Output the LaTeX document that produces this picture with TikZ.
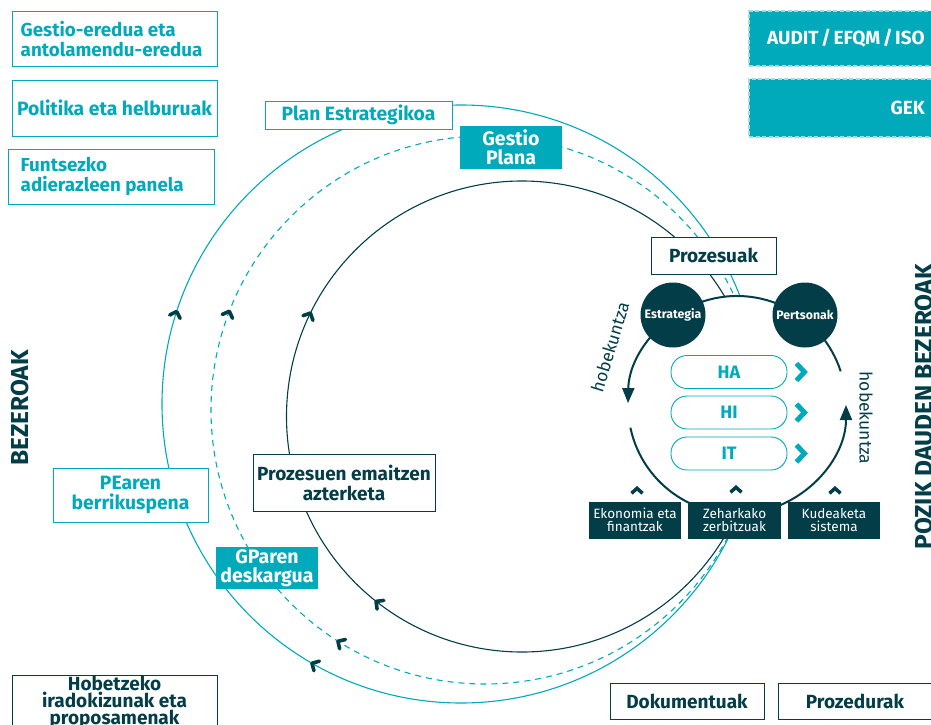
\documentclass[tikz,border=0pt]{standalone}
\usepackage{fontspec}
\setmainfont{Fira Sans}
\usetikzlibrary{arrows.meta,decorations.markings}
\definecolor{cteal}{RGB}{0,170,186}
\definecolor{cdark}{RGB}{3,62,72}
\definecolor{clight}{RGB}{160,220,226}
\newcommand{\fsz}[2]{\fontsize{#1}{#2}\selectfont}
\newcommand{\hdtip}{\draw[solid,cdark,line width=3.6pt,line cap=round,line join=round] (-3.5pt,-5.5pt) -- (2pt,0pt) -- (-3.5pt,5.5pt);}
\begin{document}
\begin{tikzpicture}[x=1pt,y=-1pt,
  tbox/.style={draw=cteal,line width=1pt,fill=white,text=cteal,font=\bfseries\fsz{19.3}{20},inner sep=0pt,align=center},
  ttext/.style={text=cteal,font=\bfseries\fsz{18.8}{20},inner sep=0pt,align=left,anchor=west},
  tfill/.style={fill=cteal,text=white,font=\bfseries\fsz{19.5}{18.5},inner sep=0pt,align=center},
  dbox/.style={draw=cdark,line width=1pt,fill=white,text=cdark,font=\bfseries\fsz{19}{20},inner sep=0pt,align=center},
  dfill/.style={fill=cdark,text=white,font=\fsz{13.5}{13},inner sep=0pt,align=center},
  sz/.style 2 args={minimum width=#1pt,minimum height=#2pt},
  pill/.style={draw=cteal,line width=0.9pt,rounded corners=16pt,fill=white,text=cteal,font=\bfseries\fsz{18}{20},minimum width=116pt,minimum height=33pt,inner sep=0pt},
  bigc/.style={line width=1.1pt,postaction=decorate},
  chev/.style={cteal,line width=5pt},
  caret/.style={cdark,line width=3.5pt},
  pcirc/.style={circle,fill=cdark,minimum size=65pt,inner sep=0pt,text=white,font=\bfseries\fsz{12.3}{14}},
  sidelbl/.style={rotate=90,anchor=base,text=cdark,font=\bfseries\fsz{24.5}{26}},
  hobe/.style={text=cdark,font=\fsz{17.5}{19}},
  tagbox/.style={fill=cteal,draw=clight,line width=1.2pt,dash pattern=on 4pt off 2.5pt,minimum width=192pt,inner sep=0pt},
  tagtext/.style={text=white,font=\bfseries\fsz{19}{20},inner sep=0pt,anchor=east},
  loop/.style={cdark,line width=2pt,-{Triangle[length=15pt,width=12pt]}}
]
\useasboundingbox (0,0) rectangle (931,725);

% big cycles
\draw[bigc,cteal,decoration={markings,mark=at position 0.332 with {\hdtip},mark=at position 0.549 with {\hdtip}}]
  (461,404) ++(0:299) arc[start angle=0,end angle=360,radius=299];
\draw[bigc,cteal,dash pattern=on 6pt off 5pt,decoration={markings,mark=at position 0.339 with {\hdtip},mark=at position 0.5575 with {\hdtip}}]
  (485,410) ++(0:274) arc[start angle=0,end angle=360,radius=274];
\draw[bigc,cdark,decoration={markings,mark=at position 0.355 with {\hdtip},mark=at position 0.571 with {\hdtip}}]
  (522,416.5) ++(0:235.5) arc[start angle=0,end angle=360,radius=235.5];

% process loop
\fill[white] (737,405) circle[radius=109];
\draw[loop] (737,405) ++(342:109) arc[start angle=342,end angle=181,radius=109];
\draw[loop] (737,405) ++(168:109) arc[start angle=168,end angle=0,radius=109];

\node[pcirc] (est) at (673,315) {Estrategia};
\node[pcirc] (pert) at (805,315) {Pertsonak};

\node[pill] (ha) at (729,372) {HA};
\node[pill] (hi) at (729,412.5) {HI};
\node[pill] (it) at (729,453.5) {IT};
\draw[chev] (ha.east) ++(9,-8.5) -- ++(8,8.5) -- ++(-8,8.5);
\draw[chev] (hi.east) ++(9,-8.5) -- ++(8,8.5) -- ++(-8,8.5);
\draw[chev] (it.east) ++(9,-8.5) -- ++(8,8.5) -- ++(-8,8.5);

\node[hobe,rotate=73] (hobL) at (610,347) {hobekuntza};
\node[hobe,rotate=-90] (hobR) at (866,418) {hobekuntza};

\node[dfill,sz={92}{37}] (eko) at (635,520) {Ekonomia eta\\finantzak};
\node[dfill,sz={93}{37}] (zer) at (734.5,520) {Zeharkako\\zerbitzuak};
\node[dfill,sz={92}{37}] (kud) at (834,520) {Kudeaketa\\sistema};
\draw[caret] (eko.north) ++(-3.5,-8) -- ++(5.5,-5) -- ++(5.5,5);
\draw[caret] (zer.north) ++(-4,-9) -- ++(5.5,-5) -- ++(5.5,5);
\draw[caret] (kud.north) ++(-4.5,-8) -- ++(5.5,-5) -- ++(5.5,5);

\node[dbox,sz={125}{37}] (proc) at (713.5,255.5) {Prozesuak};

% boxes on the cycles
\node[tbox,sz={205}{55}] (g1) at (114.5,39.5) {};
\node[ttext] (g1t) at ([xshift=9pt]g1.west) {Gestio-eredua eta\\antolamendu-eredua};
\node[tbox,sz={205}{56}] (g2) at (114.5,108) {Politika eta helburuak};
\node[tbox,sz={206}{55}] (g3) at (111,176.5) {};
\node[ttext] (g3t) at ([xshift=13pt]g3.west) {Funtsezko\\adierazleen panela};
\node[tbox,sz={187}{28}] (pe) at (358.5,115) {Plan Estrategikoa};
\node[tbox,sz={155}{54}] (pear) at (130.5,495) {PEaren\\berrikuspena};
\node[tfill,sz={102}{43}] (gp) at (511,147.5) {Gestio\\Plana};
\node[tfill,sz={102}{42}] (gpd) at (267,568) {GParen\\deskargua};
\node[dbox,sz={182}{57}] (pez) at (344,482.5) {Prozesuen emaitzen\\azterketa};
\node[dbox,sz={205}{54},font=\bfseries\fsz{19}{17}] (hob) at (114.5,702) {Hobetzeko\\iradokizunak eta\\proposamenak};
\node[dbox,sz={154}{36}] (dok) at (687,701) {Dokumentuak};
\node[dbox,sz={154}{36}] (prozd) at (855,701) {Prozedurak};

\node[tagbox,minimum height=55pt] (audit) at (845,38.5) {};
\node[tagtext] (auditt) at (925,38.5) {AUDIT\hspace{-2pt} / \hspace{-2pt}EFQM\hspace{-2pt} / \hspace{-2pt}ISO};
\node[tagbox,minimum height=58pt] (gek) at (845,108) {};
\node[tagtext] (gekt) at (925,108) {GEK};

\node[sidelbl] (bez) at (28,408) {BEZEROAK};
\node[sidelbl] (pozik) at (932,407) {POZIK DAUDEN BEZEROAK};
\end{tikzpicture}
\end{document}
